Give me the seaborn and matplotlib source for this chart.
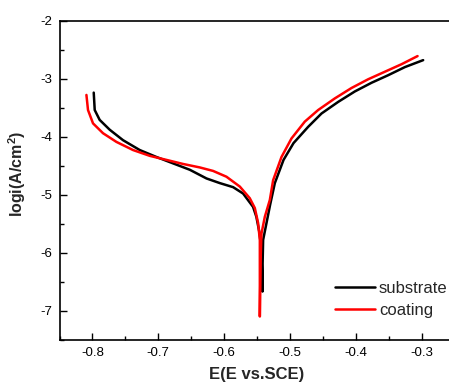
import numpy as np
import pandas as pd
import matplotlib
matplotlib.use('Agg')
import matplotlib.pyplot as plt
from matplotlib.ticker import MultipleLocator
import seaborn as sns

# Tafel curves (E in V vs. SCE, log current density)
substrate_E = [-0.798, -0.7965, -0.789, -0.7737, -0.7535, -0.7281, -0.7027,
               -0.6775, -0.6521, -0.6267, -0.6065, -0.5863, -0.5711, -0.556,
               -0.551, -0.546, -0.5432, -0.5417, -0.5415, -0.5407, -0.5356,
               -0.5300, -0.5229, -0.5097, -0.4945, -0.4723, -0.452, -0.4267,
               -0.4014, -0.376, -0.3508, -0.3254, -0.2976]
substrate_logi = [-3.24, -3.54, -3.71, -3.88, -4.06, -4.23, -4.35,
                  -4.46, -4.57, -4.72, -4.80, -4.87, -4.98, -5.21,
                  -5.38, -5.67, -6.00, -6.67, -6.20, -5.78, -5.49,
                  -5.17, -4.80, -4.40, -4.11, -3.83, -3.60, -3.40,
                  -3.22, -3.07, -2.94, -2.80, -2.68]

coating_E = [-0.8091, -0.8067, -0.7991, -0.7839, -0.7635, -0.7383, -0.7129,
             -0.6875, -0.6623, -0.6369, -0.6167, -0.5964, -0.5761, -0.561,
             -0.5533, -0.5483, -0.5457, -0.5457, -0.5445, -0.5432, -0.5381,
             -0.5305, -0.5255, -0.5128, -0.4976, -0.4774, -0.4571, -0.4318,
             -0.4064, -0.3812, -0.3558, -0.3304, -0.3061]
coating_logi = [-3.28, -3.54, -3.77, -3.94, -4.09, -4.23, -4.33,
                -4.40, -4.47, -4.53, -4.59, -4.69, -4.86, -5.06,
                -5.23, -5.49, -5.78, -7.10, -6.10, -5.67, -5.38,
                -5.09, -4.75, -4.35, -4.03, -3.74, -3.54, -3.34,
                -3.16, -3.01, -2.88, -2.75, -2.61]

series_names = ['substrate', 'coating']
series_colors = ['black', 'red']

df = pd.concat([
    pd.DataFrame({'E': substrate_E, 'logi': substrate_logi, 'sample': 'substrate'}),
    pd.DataFrame({'E': coating_E, 'logi': coating_logi, 'sample': 'coating'}),
], ignore_index=True)

sns.set_style('ticks')
plt.rcParams['font.family'] = ['Liberation Sans', 'DejaVu Sans']
plt.rcParams['axes.unicode_minus'] = False
plt.rcParams['mathtext.fontset'] = 'custom'
plt.rcParams['mathtext.rm'] = 'Liberation Sans'
plt.rcParams['mathtext.bf'] = 'Liberation Sans:bold'

fig = plt.figure(figsize=(4.49, 3.83), dpi=100)
ax = fig.add_axes([59.5 / 449, 43.3 / 383, 395 / 449, 319 / 383])

sns.lineplot(data=df, x='E', y='logi', hue='sample', hue_order=series_names,
             palette=dict(zip(series_names, series_colors)), sort=False,
             estimator=None, units='sample', linewidth=1.8, ax=ax)

ax.set_xlim(-0.85, -0.25)
ax.set_ylim(-7.5, -2)
ax.xaxis.set_major_locator(MultipleLocator(0.1))
ax.xaxis.set_minor_locator(MultipleLocator(0.05))
ax.yaxis.set_major_locator(MultipleLocator(1))
ax.yaxis.set_minor_locator(MultipleLocator(0.5))
ax.tick_params(which='both', direction='in', width=1, colors='black', labelsize=9.5, pad=5)
ax.tick_params(which='major', length=5)
ax.tick_params(which='minor', length=3)
ax.set_xticks([-0.8, -0.7, -0.6, -0.5, -0.4, -0.3])
ax.set_xticklabels(['-0.8', '-0.7', '-0.6', '-0.5', '-0.4', '-0.3'])
for s in ax.spines.values():
    s.set_linewidth(1.2)
    s.set_color('black')

ax.set_xlabel('E(E vs.SCE)', fontsize=12, fontweight='bold', labelpad=6)
ax.set_ylabel(r'logi(A/cm$\mathbf{^2}$)', fontsize=11.5, fontweight='bold')
ax.yaxis.set_label_coords(-(59.5 - 28) / 395, 0.52)

ax.legend(loc='upper left', bbox_to_anchor=(0.697, 0.185), frameon=False,
          fontsize=12, handlelength=2.4, handletextpad=0.25, labelspacing=0.45,
          borderpad=0, borderaxespad=0, title=None)

fig.savefig('out.png', dpi=100)
